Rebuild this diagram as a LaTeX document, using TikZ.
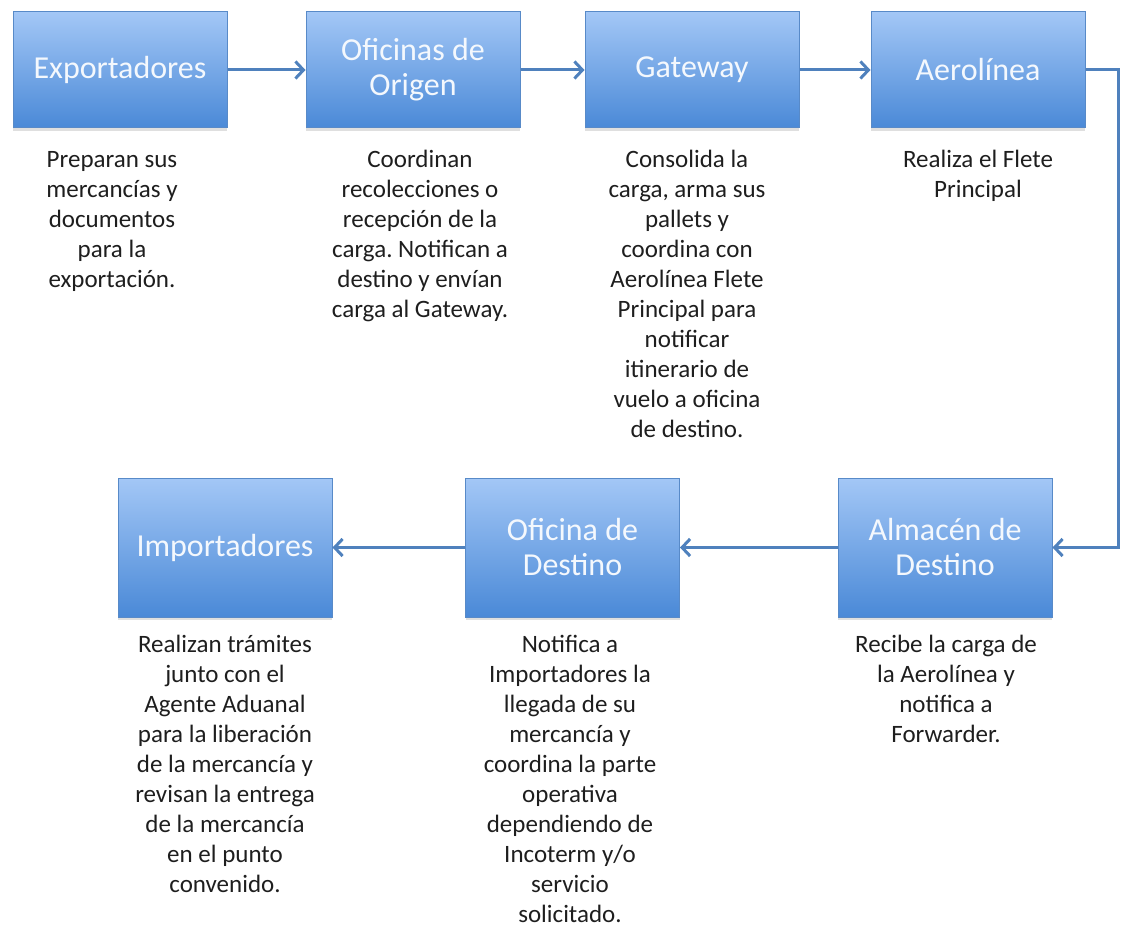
\documentclass[tikz,border=0pt]{standalone}
\usepackage{fontspec}
\setmainfont{Carlito}
\frenchspacing
\usetikzlibrary{arrows.meta,shadows}
\definecolor{boxtop}{RGB}{163,199,246}
\definecolor{boxbot}{RGB}{74,137,215}
\definecolor{boxline}{RGB}{88,138,200}
\definecolor{arrowc}{RGB}{79,129,189}
\definecolor{desctext}{RGB}{30,30,30}
\definecolor{titletext}{RGB}{244,248,253}
\tikzset{
  stepbox/.style={draw=boxline, line width=1pt, top color=boxtop, bottom color=boxbot,
    minimum width=214pt, minimum height=116pt, text=titletext,
    font=\fontsize{32}{35}\selectfont, align=center, inner sep=0pt,
    drop shadow={shadow xshift=0pt, shadow yshift=-3pt, opacity=0.25}},
  tallbox/.style={stepbox, minimum height=139pt},
  desc/.style={anchor=north, align=center, inner sep=0pt, text=desctext,
    font=\fontsize{25}{30}\selectfont},
  flow/.style={draw=arrowc, line width=3pt, -{Straight Barb[length=8pt,width=17pt]}}
}
\begin{document}
\begin{tikzpicture}[x=1pt,y=1pt]
\useasboundingbox (0,0) rectangle (1121,-928);
% top row
\node[stepbox] (exp) at (120,-70) {\raisebox{-3pt}{Exportadores}};
\node[stepbox] (ofo) at (413,-70) {\raisebox{-3pt}{Oficinas de}\\\raisebox{-3pt}{Origen}};
\node[stepbox] (gat) at (692,-70) {\raisebox{-3pt}{Gateway}};
\node[stepbox] (aer) at (978,-70) {\raisebox{-3pt}{Aerolínea}};
% bottom row
\node[tallbox] (imp) at (225,-547.5) {\raisebox{-2pt}{Importadores}};
\node[tallbox] (ofd) at (572.5,-547.5) {\raisebox{-2pt}{Oficina de}\\\raisebox{-2pt}{Destino}};
\node[tallbox] (alm) at (945,-547.5) {\raisebox{-2pt}{Almacén de}\\\raisebox{-2pt}{Destino}};
% descriptions
\node[desc] (dexp) at (112,-146) {\strut Preparan sus\\mercancías y\\documentos\\para la\\exportación.};
\node[desc] (dofo) at (420,-146) {\strut Coordinan\\recolecciones o\\recepción de la\\carga. Notifican a\\destino y envían\\carga al Gateway.};
\node[desc] (dgat) at (687,-146) {\strut Consolida la\\carga, arma sus\\pallets y\\coordina con\\Aerolínea Flete\\Principal para\\notificar\\itinerario de\\vuelo a oficina\\de destino.};
\node[desc] (daer) at (978,-146) {\strut Realiza el Flete\\Principal};
\node[desc] (dimp) at (225,-631) {\strut Realizan trámites\\junto con el\\Agente Aduanal\\para la liberación\\de la mercancía y\\revisan la entrega\\de la mercancía\\en el punto\\convenido.};
\node[desc] (dofd) at (570,-631) {\strut Notifica a\\Importadores la\\llegada de su\\mercancía y\\coordina la parte\\operativa\\dependiendo de\\Incoterm y/o\\servicio\\solicitado.};
\node[desc] (dalm) at (946,-631) {\strut Recibe la carga de\\la Aerolínea y\\notifica a\\Forwarder.};
% connectors
\coordinate (rc) at (1118,-547.5);
\draw[flow] (exp) -- (ofo);
\draw[flow] (ofo) -- (gat);
\draw[flow] (gat) -- (aer);
\draw[flow] (aer.east) -| (rc) -- (alm.east);
\draw[flow] (alm) -- (ofd);
\draw[flow] (ofd) -- (imp);
\end{tikzpicture}
\end{document}
